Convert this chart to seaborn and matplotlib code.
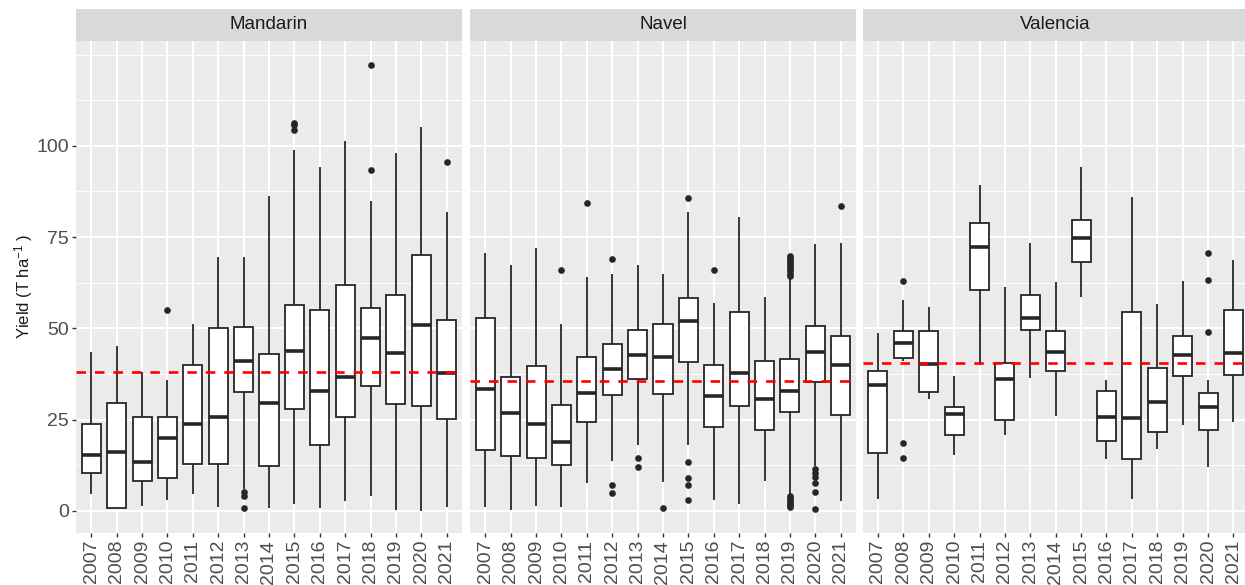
import matplotlib
matplotlib.use("Agg")
import matplotlib.pyplot as plt
import numpy as np
import pandas as pd
import seaborn as sns
from matplotlib.patches import Rectangle

# ---------------- data ----------------
YEARS = ["2007", "2008", "2009", "2010", "2011", "2012", "2013", "2014",
         "2015", "2016", "2017", "2018", "2019", "2020", "2021"]
VARIETIES = ["Mandarin", "Navel", "Valencia"]
Y_TICKS = [0, 25, 50, 75, 100]

# Mandarin
MANDARIN_LOW = [4.6, 0.9, 1.4, 3.1, 4.6, 1.0, 6.1, 0.8, 2.0, 0.8, 2.6, 4.1, 0.4, 0.1, 1.0]
MANDARIN_Q1 = [10.5, 0.9, 8.1, 8.9, 12.9, 12.9, 32.7, 12.2, 27.8, 18.1, 25.8, 34.3, 29.2, 28.8, 25.3]
MANDARIN_MED = [15.4, 16.2, 13.4, 19.9, 23.8, 25.7, 41.0, 29.6, 43.9, 32.8, 36.6, 47.3, 43.3, 51.0, 37.8]
MANDARIN_Q3 = [23.9, 29.7, 25.8, 25.8, 40.0, 50.2, 50.5, 43.1, 56.5, 55.0, 61.8, 55.6, 59.2, 70.0, 52.2]
MANDARIN_HIGH = [43.6, 45.2, 38.1, 35.8, 51.2, 69.5, 69.5, 86.3, 99.0, 94.3, 101.4, 85.0, 98.1, 105.3, 82.0]
MANDARIN_OUTLIERS = {"2010": [55.0], "2013": [5.3, 4.1, 0.9],
                     "2015": [106.3, 105.6, 104.4], "2018": [122.1, 93.3],
                     "2021": [95.5]}
MANDARIN_MEAN = 38.1

# Navel
NAVEL_LOW = [1.0, 0.4, 1.3, 1.0, 7.6, 13.6, 18.1, 8.0, 18.2, 3.1, 2.0, 8.2, 4.5, 12.2, 2.8]
NAVEL_Q1 = [16.6, 15.0, 14.5, 12.6, 24.3, 31.7, 36.1, 32.0, 40.8, 23.0, 28.8, 22.1, 27.0, 35.3, 26.2]
NAVEL_MED = [33.4, 26.7, 23.8, 18.9, 32.3, 39.0, 42.7, 42.2, 52.0, 31.6, 37.9, 30.6, 32.9, 43.6, 40.0]
NAVEL_Q3 = [52.8, 36.8, 39.8, 29.1, 42.3, 45.7, 49.5, 51.1, 58.4, 40.1, 54.5, 41.1, 41.7, 50.7, 47.8]
NAVEL_HIGH = [70.7, 67.4, 71.9, 51.3, 64.0, 64.8, 67.4, 64.8, 81.8, 57.0, 80.4, 58.6, 63.8, 73.0, 73.5]
NAVEL_OUTLIERS = {"2010": [66.1], "2011": [84.3], "2012": [69.1, 7.1, 4.9],
                  "2013": [14.6, 12.0], "2014": [0.9],
                  "2015": [85.8, 13.3, 9.1, 7.1, 2.9], "2016": [66.1],
                  "2019": [69.9, 69.4, 68.9, 68.4, 67.9, 67.3, 66.8, 66.3, 65.7,
                           65.0, 64.4, 4.1, 3.5, 3.0, 2.5, 2.0, 1.5, 1.2],
                  "2020": [11.4, 10.4, 9.4, 7.7, 5.1, 0.6], "2021": [83.6]}
NAVEL_MEAN = 35.7

# Valencia
VALENCIA_LOW = [3.3, 41.0, 30.8, 15.3, 40.0, 20.9, 36.4, 26.0, 58.6, 14.1, 3.2, 17.0, 23.5, 12.1, 24.3]
VALENCIA_Q1 = [16.0, 42.0, 32.7, 20.7, 60.6, 25.0, 49.5, 38.2, 68.1, 19.3, 14.2, 21.5, 36.9, 22.2, 37.2]
VALENCIA_MED = [34.6, 45.9, 40.3, 26.5, 72.2, 36.2, 52.9, 43.6, 74.7, 25.7, 25.5, 29.9, 42.8, 28.4, 43.4]
VALENCIA_Q3 = [38.3, 49.2, 49.2, 28.6, 79.0, 40.5, 59.2, 49.2, 79.7, 32.8, 54.5, 39.2, 47.9, 32.3, 55.1]
VALENCIA_HIGH = [48.7, 57.9, 55.8, 36.9, 89.2, 61.4, 73.4, 62.6, 94.3, 35.9, 85.9, 56.7, 63.1, 35.9, 68.7]
VALENCIA_OUTLIERS = {"2008": [62.9, 18.7, 14.6], "2020": [70.6, 63.3, 49.0]}
VALENCIA_MEAN = 40.6

STATS = {
    "Mandarin": (MANDARIN_LOW, MANDARIN_Q1, MANDARIN_MED, MANDARIN_Q3, MANDARIN_HIGH,
                 MANDARIN_OUTLIERS, MANDARIN_MEAN),
    "Navel": (NAVEL_LOW, NAVEL_Q1, NAVEL_MED, NAVEL_Q3, NAVEL_HIGH,
              NAVEL_OUTLIERS, NAVEL_MEAN),
    "Valencia": (VALENCIA_LOW, VALENCIA_Q1, VALENCIA_MED, VALENCIA_Q3, VALENCIA_HIGH,
                 VALENCIA_OUTLIERS, VALENCIA_MEAN),
}

# Build tables: five summary points per box (so quartiles are exact), plus outliers
box_rows, out_rows = [], []
for v in VARIETIES:
    lo, q1, md, q3, hi, outl, _ = STATS[v]
    for i, yr in enumerate(YEARS):
        for val in (lo[i], q1[i], md[i], q3[i], hi[i]):
            box_rows.append({"variety": v, "year": yr, "yield": val})
        for val in outl.get(yr, []):
            out_rows.append({"variety": v, "year": yr, "yield": val})
box_df = pd.DataFrame(box_rows)
out_df = pd.DataFrame(out_rows)

# ---------------- styling ----------------
sns.set_style("white")
plt.rcParams["font.family"] = ["Liberation Sans", "DejaVu Sans"]
plt.rcParams["mathtext.fontset"] = "custom"
plt.rcParams["mathtext.rm"] = "Liberation Sans"
plt.rcParams["mathtext.it"] = "Liberation Sans:italic"

W, H = 1245, 585
fig = plt.figure(figsize=(W / 100, H / 100), dpi=100)
fig.patch.set_facecolor("white")

panel_left = [76.0, 470.0, 862.7]
panel_w = 386.0
panel_top, panel_bot = 40.7, 532.7
strip_top = 9.0

for k, v in enumerate(VARIETIES):
    ax = fig.add_axes([panel_left[k] / W, (H - panel_bot) / H,
                       panel_w / W, (panel_bot - panel_top) / H])
    ax.set_facecolor("#EBEBEB")
    sub = box_df[box_df["variety"] == v]
    sns.boxplot(data=sub, x="year", y="yield", order=YEARS, whis=(0, 100),
                width=0.75, color="white", linecolor="#262626", linewidth=1.3,
                medianprops={"linewidth": 2.6}, capprops={"visible": False},
                showfliers=False, ax=ax, zorder=3)
    osub = out_df[out_df["variety"] == v]
    sns.stripplot(data=osub, x="year", y="yield", order=YEARS, jitter=False,
                  color="#262626", size=4.8, linewidth=0, ax=ax, zorder=4)
    ax.axhline(STATS[v][6], color="#FF0000", lw=1.9, ls=(0, (3.6, 3.4)), zorder=5)

    ax.set_xlim(-0.6, len(YEARS) - 0.4)
    ax.set_ylim(-5.95, 128.8)
    ax.set_yticks(Y_TICKS)
    ax.set_yticklabels([str(t) for t in Y_TICKS])
    ax.set_yticks([12.5, 37.5, 62.5, 87.5, 112.5, 125], minor=True)
    ax.grid(which="major", axis="both", color="white", lw=1.5)
    ax.grid(which="minor", axis="y", color="white", lw=0.7)
    ax.set_axisbelow(True)
    for s in ax.spines.values():
        s.set_visible(False)
    ax.set_xlabel("")
    ax.set_ylabel("")
    ax.tick_params(axis="x", which="major", length=3.2, width=1.0, color="#333333",
                   labelsize=14, labelcolor="#4D4D4D", pad=2, labelrotation=90,
                   bottom=True)
    ax.tick_params(axis="y", which="minor", length=0)
    if k == 0:
        ax.tick_params(axis="y", which="major", length=3.2, width=1.0, color="#333333",
                       labelsize=14, labelcolor="#4D4D4D", pad=2, left=True)
    else:
        ax.tick_params(axis="y", which="major", left=False, labelleft=False)

    # facet strip
    sh = (panel_top - strip_top) / (panel_bot - panel_top)
    ax.add_patch(Rectangle((0, 1), 1, sh, transform=ax.transAxes,
                           facecolor="#D9D9D9", edgecolor="none", clip_on=False))
    ax.text(0.5, 1 + sh / 2, v, transform=ax.transAxes, ha="center", va="center",
            fontsize=13.5, color="#1A1A1A")

fig.text(24 / W, 1 - ((panel_top + panel_bot) / 2) / H, "Yield (T ha$^{-1}$ )",
         rotation=90, ha="center", va="center", fontsize=12, color="#1A1A1A")

fig.savefig("out.png", dpi=100, facecolor="white")
